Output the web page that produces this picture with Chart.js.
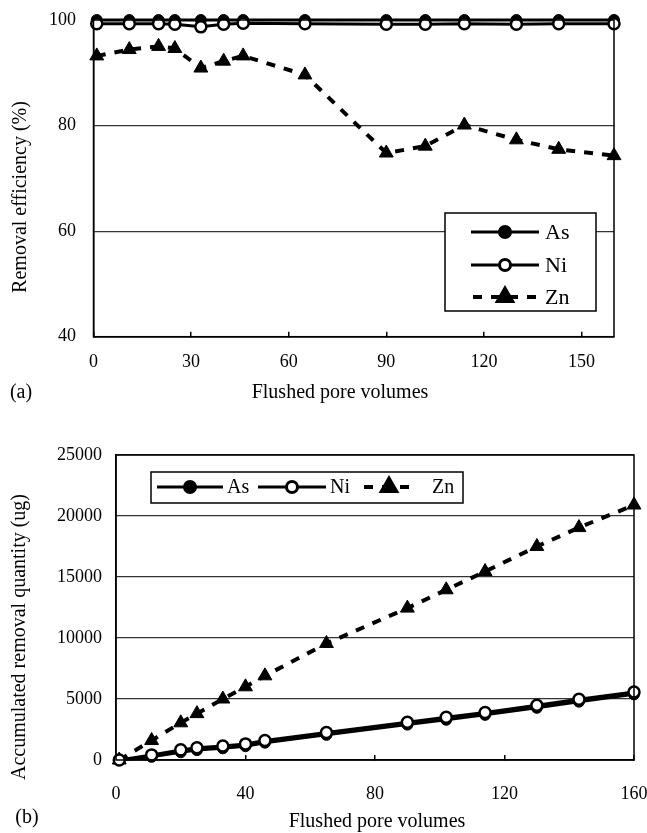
<!DOCTYPE html>
<html>
<head>
<meta charset="utf-8">
<script src="https://cdn.jsdelivr.net/npm/chart.js@4.4.0/dist/chart.umd.min.js"></script>
<style>
  body { margin: 0; background: #fff; }
  #wrap { position: relative; width: 647px; height: 833px; }
  #chartA { position: absolute; left: 0; top: 0; }
  #chartB { position: absolute; left: 0; top: 410px; }
</style>
</head>
<body>
<div id="wrap">
  <canvas id="chartA" width="647" height="410"></canvas>
  <canvas id="chartB" width="647" height="423"></canvas>
</div>
<script>
// Flushed pore volumes (same sampling for both panels)
let poreVolumes = [1, 11, 20, 25, 33, 40, 46, 65, 90, 102, 114, 130, 143, 160];

// (a) removal efficiency, %
let asEfficiency = [100, 100, 100, 100, 100, 100, 100, 100, 100, 100, 100, 100, 100, 100];
let niEfficiency = [99.3, 99.3, 99.3, 99.2, 98.7, 99.2, 99.4, 99.3, 99.2, 99.2, 99.3, 99.2, 99.3, 99.3];
let znEfficiency = [93.2, 94.4, 95.0, 94.6, 90.9, 92.2, 93.2, 89.6, 74.8, 76.1, 80.1, 77.3, 75.5, 74.3];

// (b) accumulated removal quantity, ug
let asQuantity = [0, 260, 640, 810, 960, 1130, 1420, 2060, 2900, 3300, 3700, 4280, 4780, 5380];
let niQuantity = [0, 420, 830, 1000, 1150, 1320, 1600, 2250, 3100, 3500, 3900, 4480, 4980, 5580];
let znQuantity = [0, 1600, 3050, 3800, 5000, 6000, 6900, 9550, 12450, 13950, 15450, 17500, 19050, 20900];

// tick labels
let xTicksA = [0, 30, 60, 90, 120, 150];
let yTicksA = [40, 60, 80, 100];
let xTicksB = [0, 40, 80, 120, 160];
let yTicksB = [0, 5000, 10000, 15000, 20000, 25000];

let seriesNames = ['As', 'Ni', 'Zn'];

const serif = "'Liberation Serif', 'Times New Roman', serif";
const tickFont = { family: serif, size: 18 };

// turn two arrays into {x, y} points
function toPoints(xs, ys) {
  return xs.map((x, i) => ({ x: x, y: ys[i] }));
}

// the three series share their look in both panels
function makeDatasets(asData, niData, znData) {
  return [
    {
      label: seriesNames[0], data: toPoints(poreVolumes, asData),
      borderColor: '#000', borderWidth: 3,
      pointStyle: 'circle', pointRadius: 5.5, pointBorderWidth: 1,
      pointBackgroundColor: '#000', pointBorderColor: '#000',
      order: 1, clip: false
    },
    {
      label: seriesNames[1], data: toPoints(poreVolumes, niData),
      borderColor: '#000', borderWidth: 3,
      pointStyle: 'circle', pointRadius: 5.5, pointBorderWidth: 2.5,
      pointBackgroundColor: '#fff', pointBorderColor: '#000',
      order: 0, clip: false
    },
    {
      label: seriesNames[2], data: toPoints(poreVolumes, znData),
      borderColor: '#000', borderWidth: 4, borderDash: [9, 9],
      pointStyle: 'triangle', pointRadius: 8, pointBorderWidth: 1,
      pointBackgroundColor: '#000', pointBorderColor: '#000',
      order: 0, clip: false
    }
  ];
}

// draw a marker the same way the chart does
function marker(ctx, ds, x, y) {
  ctx.fillStyle = ds.pointBackgroundColor;
  ctx.strokeStyle = ds.pointBorderColor;
  ctx.setLineDash([]);
  Chart.helpers.drawPoint(ctx, {
    pointStyle: ds.pointStyle, radius: ds.pointRadius,
    borderWidth: ds.pointBorderWidth, rotation: 0
  }, x, y);
}

// frame round the plot, boxed legend, axis titles and panel letter
const panelPlugin = {
  id: 'panel',
  afterDatasetsDraw(chart, args, o) {
    const ctx = chart.ctx;
    const a = chart.chartArea;
    ctx.save();
    ctx.strokeStyle = '#000';
    ctx.lineWidth = 1.5;
    ctx.strokeRect(a.left, a.top, a.right - a.left, a.bottom - a.top);

    // legend
    const L = o.legend;
    ctx.fillStyle = '#fff';
    ctx.fillRect(L.x, L.y, L.w, L.h);
    ctx.lineWidth = 1.5;
    ctx.strokeRect(L.x, L.y, L.w, L.h);
    chart.data.datasets.forEach((ds, i) => {
      const row = L.rows[i];
      ctx.strokeStyle = '#000';
      ctx.lineWidth = ds.borderWidth;
      ctx.setLineDash(ds.borderDash || []);
      ctx.lineDashOffset = ds.borderDash ? -2 : 0;
      ctx.beginPath();
      ctx.moveTo(row.x0, row.y);
      ctx.lineTo(row.x1, row.y);
      ctx.stroke();
      marker(ctx, ds, (row.x0 + row.x1) / 2, row.y);
      ctx.fillStyle = '#000';
      ctx.font = L.fontSize + 'px ' + serif;
      ctx.textAlign = 'left';
      ctx.textBaseline = 'middle';
      ctx.fillText(ds.label, row.tx, row.y + 1);
    });

    // texts
    ctx.fillStyle = '#000';
    ctx.font = '20px ' + serif;
    ctx.textAlign = 'center';
    ctx.textBaseline = 'middle';
    ctx.fillText(o.xTitle, o.xTitleAt[0], o.xTitleAt[1]);
    ctx.fillText(o.letter, o.letterAt[0], o.letterAt[1]);
    ctx.save();
    ctx.translate(o.yTitleAt[0], o.yTitleAt[1]);
    ctx.rotate(-Math.PI / 2);
    ctx.fillText(o.yTitle, 0, 0);
    ctx.restore();
    ctx.restore();
  }
};

// common axis setup, sizes fixed so the plot box lands where it should
function makeScales(xMin, xMax, xTicks, yMin, yMax, yTicks, yWidth, xHeight, xPad, yPad) {
  return {
    x: {
      type: 'linear', min: xMin, max: xMax,
      afterBuildTicks: s => { s.ticks = xTicks.map(v => ({ value: v })); },
      afterFit: s => { s.height = xHeight; s.paddingLeft = 0; s.paddingRight = 0; },
      border: { color: '#000', width: 1.5 },
      grid: { drawOnChartArea: false, color: '#000', lineWidth: 1.5, tickLength: -5 },
      ticks: { color: '#000', font: tickFont, padding: xPad, maxRotation: 0, autoSkip: false,
               callback: v => String(v) }
    },
    y: {
      type: 'linear', min: yMin, max: yMax,
      afterBuildTicks: s => { s.ticks = yTicks.map(v => ({ value: v })); },
      afterFit: s => { s.width = yWidth; s.paddingTop = 0; s.paddingBottom = 0; },
      border: { color: '#000', width: 1.5 },
      grid: { color: '#333', lineWidth: 1.2, drawTicks: false },
      ticks: { color: '#000', font: tickFont, padding: yPad, autoSkip: false,
               callback: v => String(v) }
    }
  };
}

let chartA = new Chart(document.getElementById('chartA').getContext('2d'), {
  type: 'line',
  data: { datasets: makeDatasets(asEfficiency, niEfficiency, znEfficiency) },
  options: {
    responsive: false,
    animation: false,
    layout: { padding: { top: 20, right: 33, left: 0, bottom: 0 } },
    elements: { line: { tension: 0 } },
    scales: makeScales(0, 160, xTicksA, 40, 100, yTicksA, 93.5, 73.3, 20, 17.5),
    plugins: {
      legend: { display: false },
      tooltip: { enabled: false },
      panel: {
        legend: {
          x: 445, y: 213, w: 151, h: 98, fontSize: 22,
          rows: [
            { x0: 471, x1: 539, tx: 545, y: 232 },
            { x0: 471, x1: 539, tx: 545, y: 265 },
            { x0: 471, x1: 539, tx: 545, y: 297 }
          ]
        },
        xTitle: 'Flushed pore volumes', xTitleAt: [340, 393],
        yTitle: 'Removal efficiency (%)', yTitleAt: [21, 197],
        letter: '(a)', letterAt: [21, 393]
      }
    }
  },
  plugins: [panelPlugin]
});

let chartB = new Chart(document.getElementById('chartB').getContext('2d'), {
  type: 'line',
  data: { datasets: makeDatasets(asQuantity, niQuantity, znQuantity) },
  options: {
    responsive: false,
    animation: false,
    layout: { padding: { top: 45, right: 13, left: 0, bottom: 0 } },
    elements: { line: { tension: 0 } },
    scales: makeScales(0, 160, xTicksB, 0, 25000, yTicksB, 116, 73, 28, 14),
    plugins: {
      legend: { display: false },
      tooltip: { enabled: false },
      panel: {
        legend: {
          x: 151, y: 62, w: 312, h: 31, fontSize: 20,
          rows: [
            { x0: 157, x1: 223, tx: 227, y: 77 },
            { x0: 258, x1: 326, tx: 330, y: 77 },
            { x0: 362, x1: 416, tx: 432, y: 77 }
          ]
        },
        xTitle: 'Flushed pore volumes', xTitleAt: [377, 412],
        yTitle: 'Accumulated removal quantity (ug)', yTitleAt: [20, 227],
        letter: '(b)', letterAt: [27, 408]
      }
    }
  },
  plugins: [panelPlugin]
});
</script>
</body>
</html>
